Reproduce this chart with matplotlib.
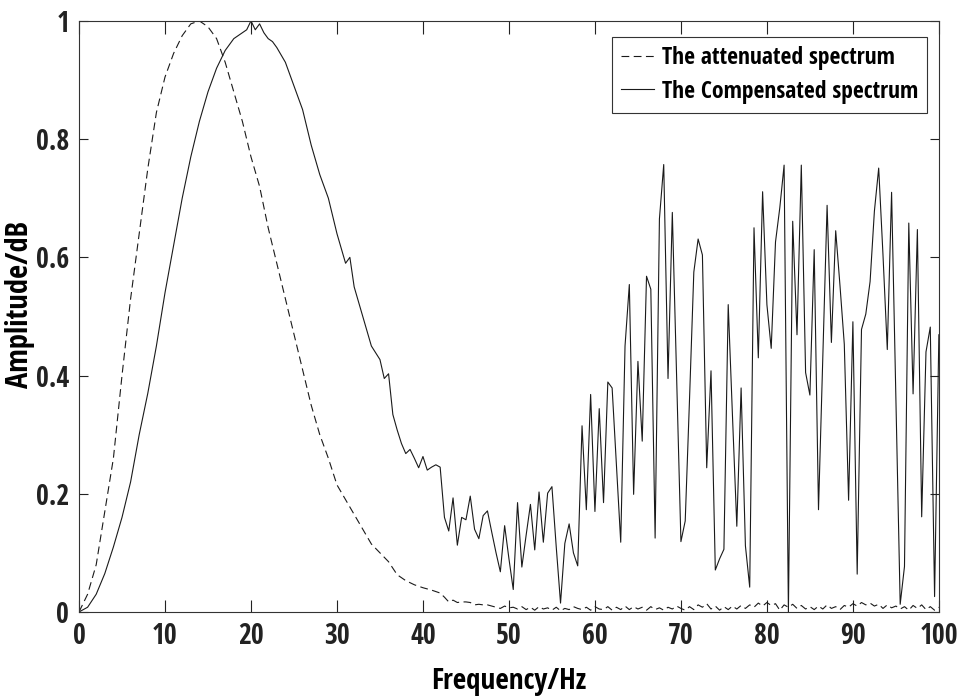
import os
import numpy as np
import matplotlib
matplotlib.use("Agg")
import matplotlib.pyplot as plt
from matplotlib import font_manager as fm

# attenuated spectrum (dashed), smooth part read every 1 Hz
att_freq = list(range(0, 43))
att_amp = [0.0, 0.03, 0.08, 0.17, 0.26, 0.40, 0.53, 0.64, 0.75, 0.845,
           0.905, 0.945, 0.975, 0.995, 1.0, 0.99, 0.97, 0.93, 0.88, 0.83,
           0.77, 0.72, 0.65, 0.59, 0.53, 0.47, 0.41, 0.35, 0.30, 0.26,
           0.215, 0.19, 0.165, 0.14, 0.115, 0.10, 0.085, 0.063, 0.053, 0.046,
           0.041, 0.037, 0.032]
# attenuated tail, 42.5 Hz .. 100 Hz every 0.5 Hz
att_tail = [0.025, 0.017, 0.02, 0.016, 0.017, 0.017, 0.016, 0.012, 0.013, 0.012,
            0.012, 0.010, 0.008, 0.006, 0.010, 0.007, 0.008, 0.005, 0.009, 0.004,
            0.008, 0.003, 0.009, 0.005, 0.007, 0.003, 0.008, 0.002, 0.006, 0.004,
            0.009, 0.006, 0.004, 0.008, 0.003, 0.009, 0.005, 0.004, 0.009, 0.003,
            0.008, 0.004, 0.010, 0.004, 0.009, 0.005, 0.008, 0.003, 0.009, 0.004,
            0.007, 0.003, 0.008, 0.005, 0.010, 0.006, 0.003, 0.009, 0.004, 0.012,
            0.008, 0.014, 0.005, 0.010, 0.003, 0.009, 0.004, 0.010, 0.005, 0.011,
            0.006, 0.012, 0.008, 0.015, 0.010, 0.016, 0.011, 0.014, 0.003, 0.012,
            0.008, 0.013, 0.006, 0.011, 0.005, 0.009, 0.004, 0.010, 0.005, 0.012,
            0.006, 0.009, 0.004, 0.011, 0.008, 0.014, 0.010, 0.016, 0.012, 0.015,
            0.010, 0.013, 0.006, 0.012, 0.007, 0.010, 0.005, 0.009, 0.003, 0.011,
            0.006, 0.012, 0.004, 0.009, 0.003, 0.008]

# compensated spectrum (solid), smooth part
comp_freq = [0, 1, 2, 3, 4, 5, 6, 7, 8, 9, 10, 11, 12, 13, 14, 15, 16, 17, 18, 19,
             19.5, 20, 20.5, 21, 21.5, 22, 22.5, 23, 24, 25, 26, 27, 28, 29, 30, 31,
             31.5, 32, 33, 34, 35, 35.5, 36, 36.5, 37, 37.5, 38, 38.5, 39, 39.5,
             40, 40.5, 41, 41.5, 42]
comp_amp = [0.0, 0.008, 0.03, 0.065, 0.11, 0.16, 0.22, 0.30, 0.37, 0.45,
            0.54, 0.62, 0.70, 0.77, 0.83, 0.88, 0.92, 0.95, 0.97, 0.98,
            0.985, 1.0, 0.985, 0.995, 0.98, 0.97, 0.965, 0.955, 0.93, 0.89,
            0.85, 0.79, 0.74, 0.70, 0.64, 0.59, 0.60, 0.55, 0.50, 0.45,
            0.427, 0.395, 0.403, 0.334, 0.308, 0.285, 0.268, 0.275, 0.26, 0.244,
            0.263, 0.24, 0.245, 0.249, 0.245]
# compensated noisy part, 42.5 Hz .. 100 Hz every 0.5 Hz
comp_tail = [0.160, 0.137, 0.193, 0.113, 0.160, 0.156, 0.196, 0.140, 0.124, 0.163,
             0.171, 0.135, 0.100, 0.068, 0.146, 0.090, 0.038, 0.185, 0.076, 0.130,
             0.182, 0.105, 0.203, 0.118, 0.201, 0.212, 0.110, 0.015, 0.116, 0.149,
             0.100, 0.078, 0.315, 0.173, 0.368, 0.170, 0.344, 0.185, 0.389, 0.379,
             0.250, 0.118, 0.450, 0.554, 0.199, 0.424, 0.289, 0.568, 0.546, 0.125,
             0.665, 0.757, 0.395, 0.676, 0.400, 0.119, 0.154, 0.360, 0.575, 0.631,
             0.604, 0.244, 0.408, 0.071, 0.090, 0.106, 0.520, 0.330, 0.145, 0.379,
             0.112, 0.042, 0.650, 0.430, 0.711, 0.520, 0.446, 0.626, 0.684, 0.756,
             0.000, 0.661, 0.469, 0.756, 0.405, 0.367, 0.613, 0.173, 0.430, 0.688,
             0.456, 0.645, 0.552, 0.453, 0.189, 0.491, 0.064, 0.478, 0.504, 0.559,
             0.678, 0.751, 0.604, 0.444, 0.710, 0.360, 0.013, 0.077, 0.658, 0.369,
             0.647, 0.161, 0.440, 0.482, 0.026, 0.469]

x_ticks = [0, 10, 20, 30, 40, 50, 60, 70, 80, 90, 100]
x_tick_labels = [str(t) for t in x_ticks]
y_ticks = [0, 0.2, 0.4, 0.6, 0.8, 1.0]
y_tick_labels = ["0", "0.2", "0.4", "0.6", "0.8", "1"]


def find_narrow_bold():
    # look for a condensed bold sans (Arial Narrow look-alike)
    prefs = ["liberationsansnarrow-bold.", "arialnarrow-bold", "arialnb",
             "opensans-condbold", "opensanscondensed-bold", "robotocondensed-bold",
             "dejavusanscondensed-bold."]
    files = [f.fname for f in fm.fontManager.ttflist]
    for p in prefs:
        for fn in files:
            if os.path.basename(fn).replace(" ", "").lower().startswith(p):
                return fn
    return None


narrow = find_narrow_bold()
if narrow:
    fp_tick = fm.FontProperties(fname=narrow, size=20)
    fp_xlabel = fm.FontProperties(fname=narrow, size=21)
    fp_ylabel = fm.FontProperties(fname=narrow, size=22)
    fp_leg = fm.FontProperties(fname=narrow, size=17)
else:
    fp_tick = fm.FontProperties(family="Liberation Sans", weight="bold", size=17)
    fp_xlabel = fm.FontProperties(family="Liberation Sans", weight="bold", size=19)
    fp_ylabel = fm.FontProperties(family="Liberation Sans", weight="bold", size=19)
    fp_leg = fm.FontProperties(family="Liberation Sans", weight="bold", size=15)

att_x = np.concatenate([att_freq, 42.5 + 0.5 * np.arange(len(att_tail))])
att_y = np.concatenate([att_amp, att_tail])
comp_x = np.concatenate([comp_freq, 42.5 + 0.5 * np.arange(len(comp_tail))])
comp_y = np.concatenate([comp_amp, comp_tail])

fig = plt.figure(figsize=(9.6, 6.97), dpi=100)
ax = fig.add_axes([0.0823, 0.122, 0.8957, 0.848])

line_col = "#1a1a1a"
ax.plot(att_x, att_y, color=line_col, lw=0.8, linestyle=(0, (7, 4)),
        label="The attenuated spectrum")
ax.plot(comp_x, comp_y, color=line_col, lw=0.8, label="The Compensated spectrum")

ax.set_xlim(0, 100)
ax.set_ylim(0, 1)
ax.set_xticks(x_ticks)
ax.set_xticklabels(x_tick_labels, fontproperties=fp_tick)
ax.set_yticks(y_ticks)
ax.set_yticklabels(y_tick_labels, fontproperties=fp_tick)
ax.tick_params(direction="in", width=0.8, top=True, right=True,
               pad=7, colors="#222222")
ax.tick_params(axis="x", length=9)
ax.tick_params(axis="y", length=6.5)
for s in ax.spines.values():
    s.set_linewidth(0.8)
    s.set_color("#333333")

ax.set_xlabel("Frequency/Hz", fontproperties=fp_xlabel)
ax.xaxis.set_label_coords(0.5, -0.093)
ax.set_ylabel("Amplitude/dB", fontproperties=fp_ylabel)
ax.yaxis.set_label_coords(-0.051, 0.52)

leg = ax.legend(loc="upper right", bbox_to_anchor=(0.9865, 0.973),
                prop=fp_leg, handlelength=1.4, handletextpad=0.3,
                borderaxespad=0, fancybox=False, framealpha=1,
                borderpad=0.4, labelspacing=0.4)
leg.get_frame().set_edgecolor("#333333")
leg.get_frame().set_linewidth(0.8)

fig.savefig("out.png", dpi=100)
